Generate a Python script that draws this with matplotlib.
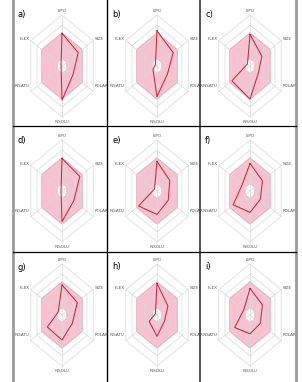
import numpy as np
import matplotlib
matplotlib.use("Agg")
import matplotlib.pyplot as plt

axes_names = ["LIPO", "SIZE", "POLAR", "INSOLU", "INSATU", "FLEX"]
panel_labels = ["a)", "b)", "c)", "d)", "e)", "f)", "g)", "h)", "i)"]

# compound values on each radar axis (0 = centre, 1 = outer ring)
val_a = [0.64, 0.52, 0.35, 0.67, 0.03, 0.03]
val_b = [0.69, 0.52, 0.33, 0.60, 0.13, 0.05]
val_c = [0.62, 0.38, 0.27, 0.65, 0.58, 0.08]
val_d = [0.64, 0.57, 0.38, 0.60, 0.03, 0.03]
val_e = [0.58, 0.41, 0.36, 0.46, 0.59, 0.08]
val_f = [0.54, 0.40, 0.33, 0.42, 0.54, 0.25]
val_g = [0.59, 0.49, 0.33, 0.49, 0.47, 0.12]
val_h = [0.62, 0.35, 0.24, 0.42, 0.25, 0.05]
val_i = [0.52, 0.40, 0.33, 0.37, 0.49, 0.20]
values = [val_a, val_b, val_c, val_d, val_e, val_f, val_g, val_h, val_i]

optimal_outer = [0.65] * 6
optimal_inner = [0.13] * 6
grid_levels = [0.2, 0.4, 0.6, 0.8, 1.0]

W, H = 302, 382
fig = plt.figure(figsize=(W / 100, H / 100), dpi=100)

col_edges = [13, 107, 200, 296]
row_edges = [0, 126, 252, 382]
col_cx = [62, 157, 250]
row_cy = [66, 191, 315]
RX, RY = 36, 51

ang = np.deg2rad(np.arange(6) * 60.0)
sx, sy = np.sin(ang), np.cos(ang)


def xy(r):
    r = np.asarray(r, dtype=float)
    x = r * sx
    y = r * sy
    return np.append(x, x[0]), np.append(y, y[0])


for k in range(9):
    row, col = divmod(k, 3)
    x0, x1 = col_edges[col], col_edges[col + 1]
    y0, y1 = row_edges[row], row_edges[row + 1]
    cx, cy = col_cx[col], row_cy[row]
    ax = fig.add_axes([x0 / W, 1 - y1 / H, (x1 - x0) / W, (y1 - y0) / H])
    ax.set_xlim((x0 - cx) / RX, (x1 - cx) / RX)
    ax.set_ylim((cy - y1) / RY, (cy - y0) / RY)
    ax.axis("off")

    # optimal (pink) zone with white centre
    ox, oy = xy(optimal_outer)
    ix, iy = xy(optimal_inner)
    ax.fill(ox, oy, color="#f7c1d0", lw=0, zorder=1)
    ax.plot(ox, oy, color="#f0a3b8", lw=0.6, zorder=2)
    ax.fill(ix, iy, color="white", lw=0, zorder=2)

    for lv in grid_levels:
        gx, gy = xy([lv] * 6)
        ax.plot(gx, gy, color="#d8d8d8", lw=0.5, zorder=3)
    for j in range(6):
        ax.plot([0, sx[j]], [0, sy[j]], color="#d8d8d8", lw=0.5, zorder=3)

    vx, vy = xy(values[k])
    ax.plot(vx, vy, color="#c8283a", lw=0.75, zorder=5)

    for j, name in enumerate(axes_names):
        lx, ly = 0.0, 0.0
        ha = "center"
        if sx[j] > 0.1:
            ha = "left"
            lx = 0.9 * sx[j] + 0.12
        elif sx[j] < -0.1:
            ha = "right"
            lx = 0.9 * sx[j] - 0.12
        if j in (2, 4):
            ly = sy[j] + 0.1
        if j in (1, 5):
            ly = sy[j] + 0.02
        if j == 0:
            ly = 1.08
        if j == 3:
            ly = -1.1
        ax.text(lx, ly, name, fontsize=3.0, color="#555555", ha=ha, va="center",
                clip_on=False, zorder=6)

    ax.text((x0 + 5 - cx) / RX, (cy - (y0 + 15)) / RY, panel_labels[k],
            fontsize=6, color="black", ha="left", va="center", zorder=6)

# table borders
frame = fig.add_axes([0, 0, 1, 1], zorder=10)
frame.set_xlim(0, W)
frame.set_ylim(H, 0)
frame.axis("off")
frame.plot([13, 13], [0, H], color="#9a9a9a", lw=2.0)
frame.plot([107, 107], [0, H], color="black", lw=1.0)
frame.plot([200, 200], [0, H], color="#444444", lw=1.3)
frame.plot([296, 296], [0, H], color="#9a9a9a", lw=2.0)
frame.plot([13, 296], [126, 126], color="black", lw=0.9)
frame.plot([13, 296], [252, 252], color="black", lw=0.9)

fig.savefig("out.png", dpi=100)
